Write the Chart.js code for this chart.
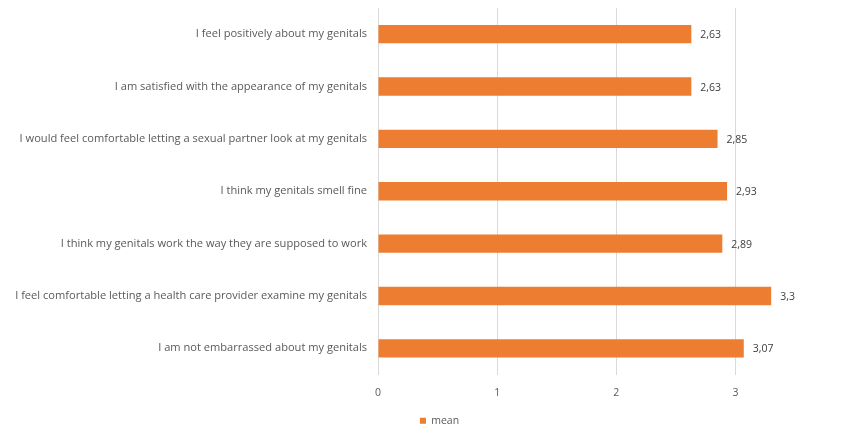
<!DOCTYPE html>
<html>
<head>
<meta charset="utf-8">
<script src="https://cdn.jsdelivr.net/npm/chart.js@4/dist/chart.umd.min.js"></script>
<style>
html,body{margin:0;padding:0;background:#fff;}
#wrap{width:850px;height:427px;}
</style>
</head>
<body>
<div id="wrap"><canvas id="c" width="850" height="427"></canvas></div>
<script>
const categories = [
  "I feel positively about my genitals",
  "I am satisfied with the appearance of my genitals",
  "I would feel comfortable letting a sexual partner look at my genitals",
  "I think my genitals smell fine",
  "I think my genitals work the way they are supposed to work",
  "I feel comfortable letting a health care provider examine my genitals",
  "I am not embarrassed about my genitals"
];
const meanValues = [2.63, 2.63, 2.85, 2.93, 2.89, 3.3, 3.07];
const meanLabels = ["2,63", "2,63", "2,85", "2,93", "2,89", "3,3", "3,07"];
const xTicks = [0, 1, 2, 3];

const FONT = "'Open Sans', 'Liberation Sans', Arial, sans-serif";
const TEXT = "#595959";

const valueLabels = {
  id: 'valueLabels',
  afterDatasetsDraw(chart) {
    const ctx = chart.ctx;
    const meta = chart.getDatasetMeta(0);
    ctx.save();
    ctx.font = "10.5px " + FONT;
    ctx.fillStyle = "#404040";
    ctx.textAlign = "left";
    ctx.textBaseline = "middle";
    meta.data.forEach((bar, i) => {
      ctx.fillText(meanLabels[i], bar.x + 9, bar.y + 1);
    });
    ctx.restore();
  }
};

const shiftLegend = {
  id: 'shiftLegend',
  afterLayout(chart) {
    const lg = chart.legend;
    if (lg) { lg.left += 42; lg.right += 42; lg.top += 9; lg.bottom += 9; }
  }
};

new Chart(document.getElementById('c'), {
  type: 'bar',
  data: {
    labels: categories,
    datasets: [{
      label: 'mean',
      data: meanValues,
      backgroundColor: '#ED7D31',
      borderWidth: 0,
      barPercentage: 0.5,
      categoryPercentage: 0.7
    }]
  },
  options: {
    indexAxis: 'y',
    responsive: false,
    animation: false,
    devicePixelRatio: 1,
    layout: { padding: { top: 8, right: 55, left: 0, bottom: 0 } },
    scales: {
      x: {
        min: 0,
        max: 3.5,
        afterBuildTicks(scale) { scale.ticks = xTicks.map(v => ({ value: v })); },
        afterFit(scale) { scale.height = 32; scale.paddingLeft = 0; scale.paddingRight = 0; },
        ticks: {
          stepSize: 1,
          includeBounds: false,
          color: TEXT,
          font: { family: FONT, size: 10.5 },
          padding: 12,
          maxRotation: 0
        },
        grid: { color: '#d9d9d9', lineWidth: 1, drawTicks: false },
        border: { display: false }
      },
      y: {
        afterFit(scale) { scale.width = 378; scale.paddingTop = 0; scale.paddingBottom = 0; },
        ticks: {
          color: TEXT,
          font: { family: FONT, size: 11.1 },
          padding: 11,
          autoSkip: false
        },
        grid: { display: false, drawTicks: false },
        border: { display: false }
      }
    },
    plugins: {
      legend: {
        position: 'bottom',
        labels: {
          boxWidth: 6,
          boxHeight: 6,
          color: TEXT,
          font: { family: FONT, size: 10.5 },
          padding: 0
        }
      },
      tooltip: { enabled: false }
    }
  },
  plugins: [valueLabels, shiftLegend]
});
</script>
</body>
</html>
